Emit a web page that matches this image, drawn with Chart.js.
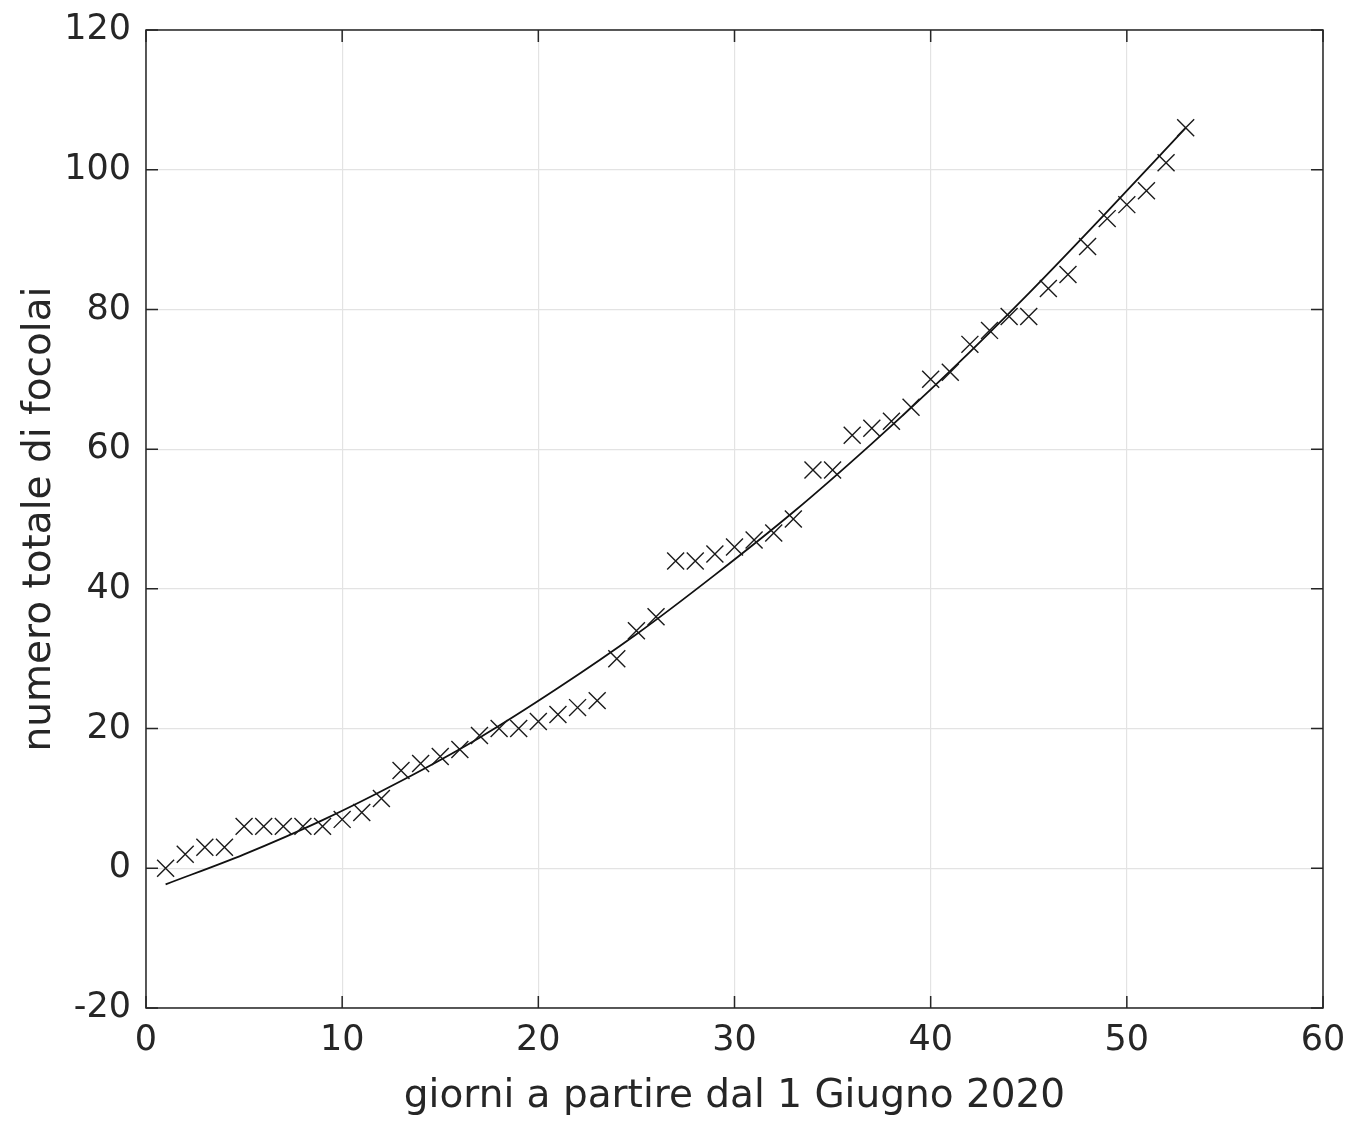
<!DOCTYPE html>
<html>
<head>
<meta charset="utf-8">
<script src="https://cdn.jsdelivr.net/npm/chart.js@4"></script>
<style>
  html, body { margin: 0; padding: 0; background: #ffffff; }
  #wrap { width: 1360px; height: 1128px; position: relative; }
</style>
</head>
<body>
<div id="wrap"><canvas id="c" width="1360" height="1128"></canvas></div>
<script>
// Observed data: day index (from 1 June 2020) and cumulative number of outbreaks
const days = [1,2,3,4,5,6,7,8,9,10,11,12,13,14,15,16,17,18,19,20,21,22,23,24,25,26,27,28,29,30,31,32,33,34,35,36,37,38,39,40,41,42,43,44,45,46,47,48,49,50,51,52,53];
const focolai = [0,2,3,3,6,6,6,6,6,7,8,10,14,15,16,17,19,20,20,21,22,23,24,30,34,36,44,44,45,46,47,48,50,57,57,62,63,64,66,70,71,75,77,79,79,83,85,89,93,95,97,101,106];

// Fitted curve, values
const fitDays = [1,5,9,13,17,21,25,29,33,37,41,45,49,53];
const fitValues = [-2.3,2.0,6.9,12.5,18.7,25.8,33.5,42.0,51.0,60.8,71.2,82.3,94.0,106.0];

// Axis ticks
const xTicks = [0,10,20,30,40,50,60];
const yTicks = [-20,0,20,40,60,80,100,120];

const xLabel = 'giorni a partire dal 1 Giugno 2020';
const yLabel = 'numero totale di focolai';

const AXIS_COLOR = '#262626';
const GRID_COLOR = '#e3e3e3';
const FONT = 'DejaVu Sans';

const boxPlugin = {
  id: 'matlabBox',
  afterDatasetsDraw(chart) {
    const {ctx, chartArea: a, scales} = chart;
    ctx.save();
    ctx.strokeStyle = AXIS_COLOR;
    ctx.lineWidth = 1.5;
    const tl = 12;
    ctx.beginPath();
    xTicks.forEach(v => {
      const px = scales.x.getPixelForValue(v);
      ctx.moveTo(px, a.bottom); ctx.lineTo(px, a.bottom - tl);
      ctx.moveTo(px, a.top); ctx.lineTo(px, a.top + tl);
    });
    yTicks.forEach(v => {
      const py = scales.y.getPixelForValue(v);
      ctx.moveTo(a.left, py); ctx.lineTo(a.left + tl, py);
      ctx.moveTo(a.right, py); ctx.lineTo(a.right - tl, py);
    });
    ctx.stroke();
    ctx.strokeRect(a.left, a.top, a.right - a.left, a.bottom - a.top);
    ctx.restore();
  }
};

new Chart(document.getElementById('c'), {
  type: 'scatter',
  data: {
    datasets: [
      {
        label: 'fit',
        data: fitDays.map((d, i) => ({x: d, y: fitValues[i]})),
        showLine: true,
        borderColor: '#111111',
        borderWidth: 1.8,
        pointRadius: 0,
        cubicInterpolationMode: 'monotone',
        order: 2
      },
      {
        label: 'dati',
        data: days.map((d, i) => ({x: d, y: focolai[i]})),
        pointStyle: 'crossRot',
        pointRadius: 12,
        pointBorderWidth: 1.4,
        borderColor: '#1a1a1a',
        backgroundColor: '#1a1a1a',
        showLine: false,
        order: 1
      }
    ]
  },
  options: {
    responsive: false,
    animation: false,
    devicePixelRatio: 1,
    layout: { padding: { top: 30, right: 37, bottom: 0, left: 0 } },
    plugins: { legend: { display: false }, tooltip: { enabled: false } },
    scales: {
      x: {
        type: 'linear',
        min: 0, max: 60,
        afterBuildTicks: s => { s.ticks = xTicks.map(v => ({value: v})); },
        afterFit: s => { s.height = 120; s.paddingLeft = 0; s.paddingRight = 0; },
        grid: { color: GRID_COLOR, lineWidth: 1.2, drawTicks: false },
        border: { display: false },
        ticks: { color: AXIS_COLOR, font: { family: FONT, size: 35 }, padding: 12, maxRotation: 0 },
        title: { display: true, text: xLabel, color: AXIS_COLOR, font: { family: FONT, size: 39 }, padding: { top: 0, bottom: 8 } }
      },
      y: {
        type: 'linear',
        min: -20, max: 120,
        afterBuildTicks: s => { s.ticks = yTicks.map(v => ({value: v})); },
        afterFit: s => { s.width = 146; s.paddingTop = 0; s.paddingBottom = 0; },
        grid: { color: GRID_COLOR, lineWidth: 1.2, drawTicks: false },
        border: { display: false },
        ticks: { color: AXIS_COLOR, font: { family: FONT, size: 35 }, padding: 15 },
        title: { display: true, text: yLabel, color: AXIS_COLOR, font: { family: FONT, size: 39 }, padding: { top: 16, bottom: 0 } }
      }
    }
  },
  plugins: [boxPlugin]
});
</script>
</body>
</html>
